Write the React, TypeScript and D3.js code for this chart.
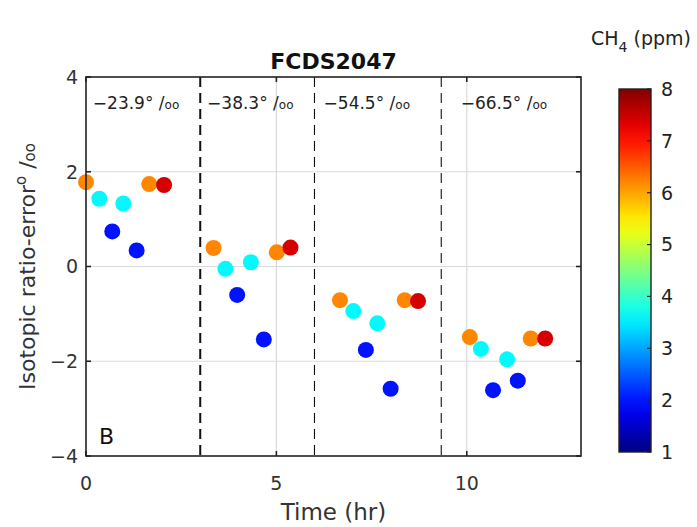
import * as d3 from "d3";

// measured time (hr), isotopic ratio error (per mil) and CH4 (ppm) of each point
const times = [
  0, 0.35, 0.69, 0.98, 1.33, 1.66, 2.05,
  3.35, 3.66, 3.97, 4.33, 4.67, 5.01, 5.37,
  6.67, 7.02, 7.35, 7.65, 8.0, 8.37, 8.72,
  10.08, 10.37, 10.69, 11.06, 11.34, 11.68, 12.06,
];
const errors = [
  1.78, 1.43, 0.74, 1.33, 0.34, 1.74, 1.72,
  0.39, -0.05, -0.6, 0.09, -1.54, 0.3, 0.4,
  -0.71, -0.94, -1.76, -1.2, -2.58, -0.71, -0.73,
  -1.49, -1.74, -2.61, -1.96, -2.41, -1.52, -1.52,
];
const ch4 = [
  6.2, 3.6, 2.0, 3.6, 2.0, 6.2, 7.4,
  6.2, 3.6, 2.0, 3.6, 2.0, 6.2, 7.4,
  6.2, 3.6, 2.0, 3.6, 2.0, 6.2, 7.4,
  6.2, 3.6, 2.0, 3.6, 2.0, 6.2, 7.4,
];

const dividers = [3, 6, 9.33];
const stepLabels = ["\u221223.9", "\u221238.3", "\u221254.5", "\u221266.5"];
const stepLabelX = [0.18, 3.18, 6.24, 9.84];

const xTicks = [0, 5, 10];
const yTicks = [-4, -2, 0, 2, 4];
const cbTicks = [1, 2, 3, 4, 5, 6, 7, 8];

const font = "'DejaVu Sans', sans-serif";

// matlab jet colormap
const jet = d3
  .scaleLinear<string>()
  .domain([1, 1.875, 3.625, 5.375, 7.125, 8])
  .range(["#000080", "#0000ff", "#00ffff", "#ffff00", "#ff0000", "#800000"])
  .clamp(true);

const App = () => {
  const left = 86;
  const right = 581;
  const top = 77;
  const bottom = 456;

  const x = d3.scaleLinear().domain([0, 13]).range([left, right]);
  const y = d3.scaleLinear().domain([-4, 4]).range([bottom, top]);

  const cbLeft = 619;
  const cbWidth = 32;
  const cb = d3.scaleLinear().domain([1, 8]).range([452, 89]);
  const stops = d3.range(0, 1.0001, 0.05);

  return (
    <svg
      width={697}
      height={527}
      style={{ position: "absolute", left: 0, top: 0, background: "#fff" }}
      fontFamily={font}
    >
      <defs>
        <linearGradient id="jet" x1="0" y1="1" x2="0" y2="0">
          {stops.map((t) => (
            <stop key={t} offset={t} stopColor={jet(1 + t * 7)} />
          ))}
        </linearGradient>
      </defs>

      {/* grid */}
      {yTicks.slice(1, -1).map((t) => (
        <line key={"gy" + t} x1={left} x2={right} y1={y(t)} y2={y(t)} stroke="#dadada" strokeWidth={1.2} />
      ))}
      {xTicks.slice(1).map((t) => (
        <line key={"gx" + t} x1={x(t)} x2={x(t)} y1={top} y2={bottom} stroke="#dadada" strokeWidth={1.2} />
      ))}

      {/* step dividers */}
      {dividers.map((d, i) => (
        <line
          key={"d" + i}
          x1={x(d)}
          x2={x(d)}
          y1={top}
          y2={bottom}
          stroke="#111"
          strokeWidth={i === 0 ? 2 : 1.1}
          strokeDasharray="10,6"
        />
      ))}

      {/* step labels */}
      {stepLabels.map((s, i) => (
        <text key={"s" + i} x={x(stepLabelX[i])} y={109} fontSize={17} fill="#222">
          {s}
          {"\u00b0 /"}
          <tspan fontSize={12}>oo</tspan>
        </text>
      ))}

      {/* points */}
      {times.map((t, i) => (
        <circle key={"p" + i} cx={x(t)} cy={y(errors[i])} r={8} fill={jet(ch4[i])} />
      ))}

      {/* axes box and ticks */}
      <rect x={left} y={top} width={right - left} height={bottom - top} fill="none" stroke="#222" strokeWidth={1.6} />
      {yTicks.map((t) => (
        <g key={"ty" + t}>
          <line x1={left} x2={left + 5} y1={y(t)} y2={y(t)} stroke="#222" strokeWidth={1.6} />
          <line x1={right} x2={right - 5} y1={y(t)} y2={y(t)} stroke="#222" strokeWidth={1.6} />
          <text x={left - 8} y={y(t)} dy="0.36em" textAnchor="end" fontSize={19} fill="#333">
            {t < 0 ? "\u2212" + Math.abs(t) : t}
          </text>
        </g>
      ))}
      {xTicks.map((t) => (
        <g key={"tx" + t}>
          <line x1={x(t)} x2={x(t)} y1={bottom} y2={bottom - 5} stroke="#222" strokeWidth={1.6} />
          <line x1={x(t)} x2={x(t)} y1={top} y2={top + 5} stroke="#222" strokeWidth={1.6} />
          <text x={x(t)} y={bottom + 34} textAnchor="middle" fontSize={19} fill="#333">
            {t}
          </text>
        </g>
      ))}

      <text x={99} y={444} fontSize={22} fill="#111">
        B
      </text>

      {/* titles */}
      <text x={(left + right) / 2} y={69} textAnchor="middle" fontSize={22} fontWeight="bold" fill="#111">
        FCDS2047
      </text>
      <text x={(left + right) / 2} y={520} textAnchor="middle" fontSize={23} fill="#333">
        Time (hr)
      </text>
      <text
        transform={`translate(35, ${(top + bottom) / 2}) rotate(-90)`}
        textAnchor="middle"
        fontSize={22}
        fill="#333"
      >
        Isotopic ratio-error
        <tspan dy={-9} fontSize={15}>o</tspan>
        <tspan dy={9}> /</tspan>
        <tspan fontSize={15}>oo</tspan>
      </text>

      {/* colorbar */}
      <rect x={cbLeft} y={cb(8)} width={cbWidth} height={cb(1) - cb(8)} fill="url(#jet)" stroke="#222" strokeWidth={1.4} />
      {cbTicks.map((t) => (
        <g key={"cb" + t}>
          <line x1={cbLeft + cbWidth} x2={cbLeft + cbWidth - 4} y1={cb(t)} y2={cb(t)} stroke="#222" strokeWidth={1.2} />
          <text x={cbLeft + cbWidth + 10} y={cb(t)} dy="0.36em" fontSize={19} fill="#222">
            {t}
          </text>
        </g>
      ))}
      <text x={591} y={45} fontSize={19} fill="#222">
        CH
        <tspan dy={7} fontSize={14}>4</tspan>
        <tspan dy={-7}> (ppm)</tspan>
      </text>
    </svg>
  );
};

export default App;
